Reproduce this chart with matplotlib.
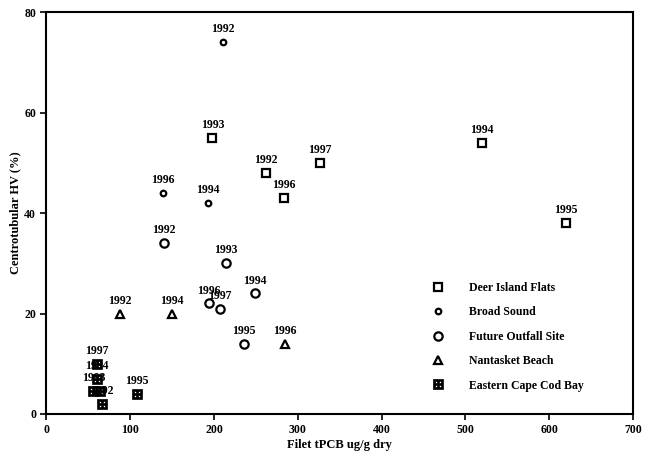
import matplotlib.pyplot as plt

plt.rcParams['font.family'] = ['Liberation Serif', 'DejaVu Serif']
plt.rcParams['font.weight'] = 'bold'

# Deer Island Flats
deer_x = [262, 198, 520, 620, 283, 326]
deer_y = [48, 55, 54, 38, 43, 50]
deer_yr = ['1992', '1993', '1994', '1995', '1996', '1997']

# Broad Sound
broad_x = [211, 193, 139]
broad_y = [74, 42, 44]
broad_yr = ['1992', '1994', '1996']

# Future Outfall Site
fos_x = [140, 214, 249, 236, 194, 207]
fos_y = [34, 30, 24, 14, 22, 21]
fos_yr = ['1992', '1993', '1994', '1995', '1996', '1997']

# Nantasket Beach
nb_x = [88, 150, 285]
nb_y = [20, 20, 14]
nb_yr = ['1992', '1994', '1996']

# Eastern Cape Cod Bay
cc_x = [66, 56, 60, 108, 64, 60]
cc_y = [2, 4.5, 7, 4, 4.5, 10]
cc_yr = ['1992', '1993', '1994', '1995', '', '1997']

series = [
    ('Deer Island Flats', deer_x, deer_y, deer_yr, 's', 6),
    ('Broad Sound', broad_x, broad_y, broad_yr, 'o', 4),
    ('Future Outfall Site', fos_x, fos_y, fos_yr, 'o', 6),
    ('Nantasket Beach', nb_x, nb_y, nb_yr, '^', 6),
    ('Eastern Cape Cod Bay', cc_x, cc_y, cc_yr, '$\u229e$', 6.5),
]

fig = plt.figure(figsize=(6.5, 4.68), dpi=100)
ax = fig.add_axes([0.0715, 0.1154, 0.9025, 0.8586])

for name, xs, ys, yrs, m, ms in series:
    if m.startswith('$'):
        ax.plot(xs, ys, ls='none', marker=m, ms=ms, color='black',
                mew=0.5, label=name)
    else:
        ax.plot(xs, ys, ls='none', marker=m, ms=ms, mfc='white',
                mec='black', mew=1.6, label=name)
    for x, y, t in zip(xs, ys, yrs):
        ax.annotate(t, (x, y), xytext=(0, 5), textcoords='offset points',
                    ha='center', va='bottom', fontsize=8.5, fontweight='bold')

ax.set_xlim(0, 700)
ax.set_ylim(0, 80)
ax.set_xticks(range(0, 701, 100))
ax.set_yticks(range(0, 81, 20))
ax.tick_params(direction='out', length=4, width=1.2, labelsize=8.5)
for lab in ax.get_xticklabels() + ax.get_yticklabels():
    lab.set_fontweight('bold')
for s in ax.spines.values():
    s.set_linewidth(1.5)

ax.set_xlabel('Filet tPCB ug/g dry', fontsize=9, fontweight='bold', labelpad=2)
ax.set_ylabel('Centrotubular HV (%)', fontsize=9, fontweight='bold', labelpad=2)

ax.legend(loc='upper left', bbox_to_anchor=(0.63, 0.355), frameon=False,
          labelspacing=1.05, handletextpad=1.6, numpoints=1,
          prop={'weight': 'bold', 'size': 8.5})

fig.savefig('out.png', dpi=100)
